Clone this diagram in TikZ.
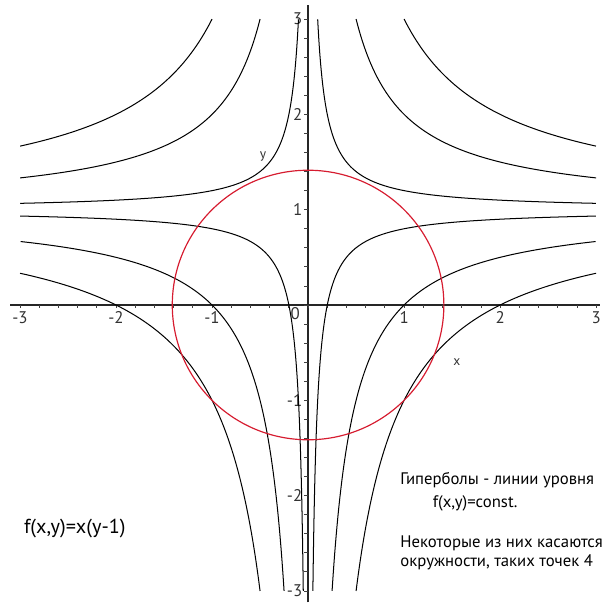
\documentclass[tikz,border=0pt]{standalone}
\usepackage{fontspec}
\setmainfont{PT Sans}
\definecolor{circred}{RGB}{214,28,48}
\begin{document}
\begin{tikzpicture}[x=2cm, y=1.985cm, font=\small,
    axis/.style={line width=0.9pt, black!85},
    tick/.style={line width=0.5pt, black!75},
    curve/.style={line width=0.6pt, black},
    ticklbl/.style={font=\fontsize{10}{12}\selectfont, text=black!80, inner sep=1pt},
    note/.style={font=\fontsize{9.9}{12}\selectfont}]
    \useasboundingbox (-3.208,-3.137) rectangle (3.073,3.200);

    % ─────────── axes ──────────────────────────────────────────────────
    \draw[axis] (-3.1,0) -- (3.04,0);
    \draw[axis] (0,-3.12) -- (0,3.15);
    \foreach \t in {-3,-2.8,...,3.1} \draw[tick] (\t,0) -- (\t,-0.035);
    \foreach \t in {-3,-2.8,...,3.1} \draw[tick] (0,\t) -- (-0.04,\t);

    % ─────────── tick labels ───────────────────────────────────────────
    \foreach \t [count=\i] in {-3,-2,-1,1,2,3}
      \node[ticklbl, anchor=north] (xt\i) at (\t,-0.05) {\t};
    \foreach \t [count=\i] in {-3,-2,-1,1,2,3}
      \node[ticklbl, anchor=east] (yt\i) at (-0.04,\t) {\t};
    \node[ticklbl] (zero) at (-0.135,-0.09) {0};
    \node[font=\footnotesize, text=black!80] (xname) at (1.55,-0.6) {x};
    \node[font=\footnotesize, text=black!80] (yname) at (-0.47,1.56) {y};

    % ─────────── level curves x(y-1)=c ─────────────────────────────────
    \foreach \c/\s/\a in {-2/-1/1, -2/1/0.5, -1/-1/0.5, -1/1/0.25,
                          -0.2/-1/0.1, -0.2/1/0.05, 0.2/1/0.1, 0.2/-1/0.05,
                          1/1/0.5, 1/-1/0.25, 2/1/1, 2/-1/0.5}
      \draw[curve] plot[domain=ln(\a):ln(3), samples=150]
        ({\s*exp(\x)}, {1+(\c)/(\s*exp(\x))});

    % ─────────── circle ────────────────────────────────────────────────
    \draw[circred, line width=0.7pt] (0,0) circle[radius=1.414];

    % ─────────── texts ─────────────────────────────────────────────────
    \node[anchor=west, font=\fontsize{12}{14}\selectfont] (func) at (-3.02,-2.34) {f(x,y)=x(y-1)};
    \node[note, anchor=west] (hyp) at (0.9,-1.836) {Гиперболы - линии уровня};
    \node[note] (const) at (1.74,-2.078) {f(x,y)=const.};
    \node[note, anchor=west] (touch) at (0.9,-2.497) {Некоторые из них касаются};
    \node[note, anchor=west] (four) at (0.9,-2.697) {окружности, таких точек 4};
\end{tikzpicture}
\end{document}
